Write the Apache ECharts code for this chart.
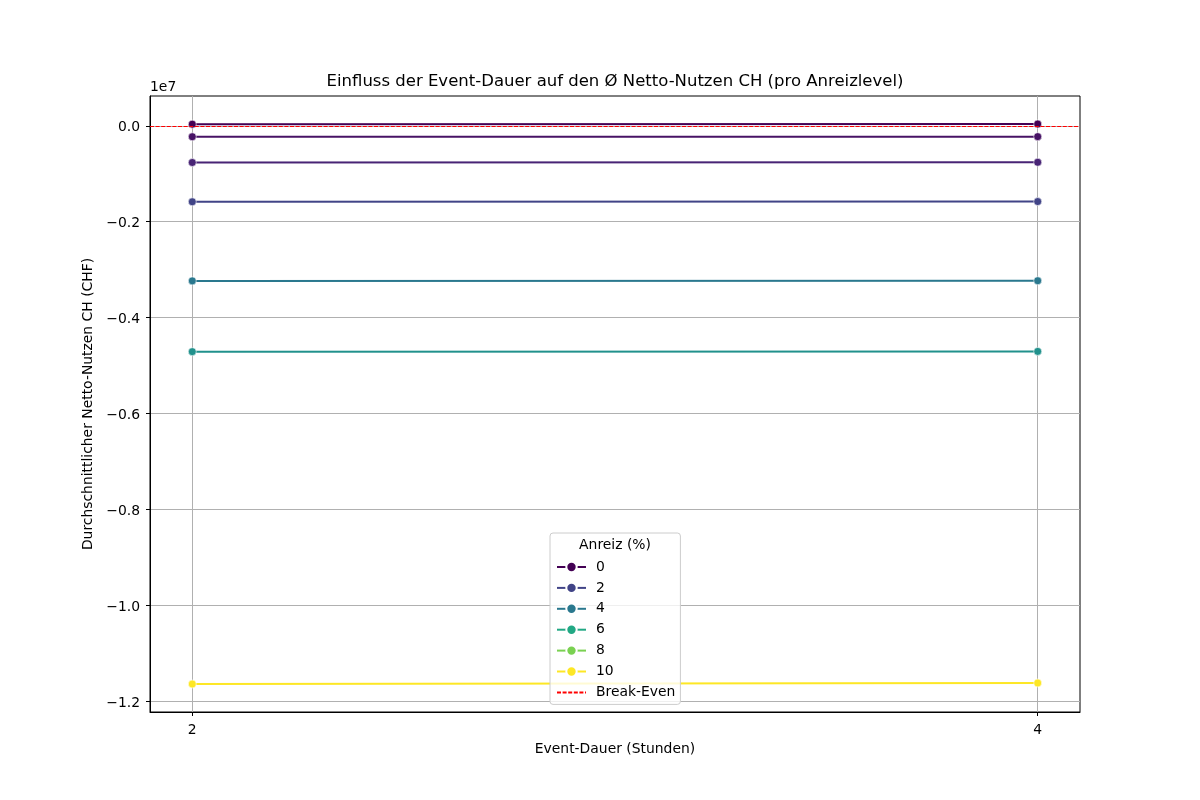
<!DOCTYPE html>
<html>
<head>
<meta charset="utf-8">
<script src="https://cdn.jsdelivr.net/npm/echarts@6/dist/echarts.min.js"></script>
<style>html,body{margin:0;padding:0;background:#fff}#c{width:1200px;height:800px}</style>
</head>
<body>
<div id="c"></div>
<script>
// ---- data ----
const durations = [2, 4];
const levels = ['0', '0.5', '1', '2', '4', '5', '10'];
const levelColors = ['#440154', '#471365', '#482475', '#414487', '#2a788e', '#21918c', '#fde725'];
const values_0   = [35000, 38000];
const values_0_5 = [-228000, -226000];
const values_1   = [-765000, -760000];
const values_2   = [-1585000, -1580000];
const values_4   = [-3235000, -3232000];
const values_5   = [-4712000, -4706000];
const values_10  = [-11645000, -11624000];
const seriesValues = [values_0, values_0_5, values_1, values_2, values_4, values_5, values_10];
const legendLevels = ['0', '2', '4', '6', '8', '10'];
const legendOnlyColors = {'6': '#22a884', '8': '#7ad151'};
const breakEven = 0;
const yTicks = [0, -2000000, -4000000, -6000000, -8000000, -10000000, -12000000];
const xTicks = [2, 4];

const FONT = 'DejaVu Sans';
const allVals = seriesValues.flat().concat([breakEven]);
const vmin = Math.min(...allVals), vmax = Math.max(...allVals);
const ypad = (vmax - vmin) * 0.05;
const xpad = (durations[durations.length - 1] - durations[0]) * 0.05;

const series = [];
levels.forEach((lv, i) => {
  series.push({
    name: lv, type: 'line',
    data: durations.map((d, j) => [d, seriesValues[i][j]]),
    symbol: 'circle', symbolSize: 8,
    lineStyle: {color: levelColors[i], width: 2},
    itemStyle: {color: levelColors[i], borderColor: '#fff', borderWidth: 0.6},
    z: 3
  });
});
['6', '8'].forEach(lv => {
  series.push({
    name: lv, type: 'line', data: [],
    symbol: 'circle', symbolSize: 8,
    lineStyle: {color: legendOnlyColors[lv], width: 2},
    itemStyle: {color: legendOnlyColors[lv], borderColor: '#fff', borderWidth: 0.6}
  });
});
series.push({
  name: 'Break-Even', type: 'line', data: [], symbol: 'none',
  lineStyle: {color: '#ff0000', width: 1, type: [4, 1.6]},
  itemStyle: {color: '#ff0000', opacity: 0},
  markLine: {
    silent: true, symbol: 'none', label: {show: false},
    lineStyle: {color: '#ff0000', width: 1, type: [4, 1.6], opacity: 1},
    emphasis: {disabled: true},
    data: [{yAxis: breakEven}]
  },
  z: 5
});

const fmtY = v => {
  const s = (v / 1e7).toFixed(1);
  return '{a|' + s.replace('-', '\u2212') + '}';
};

const chart = echarts.init(document.getElementById('c'), null, {renderer: 'canvas'});
chart.setOption({
  animation: false,
  backgroundColor: '#fff',
  textStyle: {fontFamily: FONT},
  title: [{
    text: 'Einfluss der Event-Dauer auf den Ø Netto-Nutzen CH (pro Anreizlevel)',
    left: 615, top: 73, textAlign: 'center', padding: 0,
    textStyle: {fontFamily: FONT, fontSize: 16.5, fontWeight: 'normal', color: '#000'}
  }, {
    text: 'Anreiz (%)', left: 615, top: 538, textAlign: 'center', z: 10, padding: 0,
    textStyle: {fontFamily: FONT, fontSize: 13.9, fontWeight: 'normal', color: '#000'}
  }, {
    text: '1e7', left: 150, top: 80, padding: 0,
    textStyle: {fontFamily: FONT, fontSize: 13.9, fontWeight: 'normal', color: '#000'}
  }],
  grid: {left: 150, right: 120, top: 96, bottom: 88, show: true, borderColor: '#000', borderWidth: 1, backgroundColor: 'transparent'},
  legend: {
    orient: 'vertical', left: 550, top: 533,
    data: legendLevels.map(n => ({name: n})).concat([{name: 'Break-Even', itemStyle: {opacity: 0}}]),
    itemWidth: 29, itemHeight: 13, itemGap: 6.9,
    padding: [27, 5, 5, 6],
    backgroundColor: 'rgba(255,255,255,0.8)',
    borderColor: '#cccccc', borderWidth: 1, borderRadius: 3,
    textStyle: {fontFamily: FONT, fontSize: 13.9, color: '#000', padding: [0, 0, 0, 5]},
    selectedMode: false, z: 9
  },
  xAxis: {
    type: 'value', min: durations[0] - xpad, max: durations[durations.length - 1] + xpad,
    name: 'Event-Dauer (Stunden)', nameLocation: 'middle', nameGap: 29,
    nameTextStyle: {fontFamily: FONT, fontSize: 13.9, color: '#000'},
    axisLine: {show: true, onZero: false, lineStyle: {color: '#000', width: 1}},
    axisTick: {show: true, length: 4, lineStyle: {color: '#000', width: 1}, customValues: xTicks},
    axisLabel: {fontFamily: FONT, fontSize: 13.9, color: '#000', margin: 11, customValues: xTicks, formatter: v => String(v)},
    splitLine: {show: true, lineStyle: {color: '#b0b0b0', width: 1}, customValues: xTicks}
  },
  yAxis: {
    type: 'value', min: vmin - ypad, max: vmax + ypad,
    name: 'Durchschnittlicher Netto-Nutzen CH (CHF)', nameLocation: 'middle', nameGap: 46,
    nameTextStyle: {fontFamily: FONT, fontSize: 13.9, color: '#000'},
    axisLine: {show: true, onZero: false, lineStyle: {color: '#000', width: 1}},
    axisTick: {show: true, length: 4, lineStyle: {color: '#000', width: 1}, customValues: yTicks},
    axisLabel: {
      fontFamily: FONT, fontSize: 13.9, color: '#000', margin: 10, customValues: yTicks, formatter: fmtY,
      rich: {a: {fontFamily: FONT, fontSize: 13.9, color: '#000', padding: [4, 0, 0, 0]}}
    },
    splitLine: {show: true, lineStyle: {color: '#b0b0b0', width: 1}, customValues: yTicks}
  },
  series: series
});
</script>
</body>
</html>
